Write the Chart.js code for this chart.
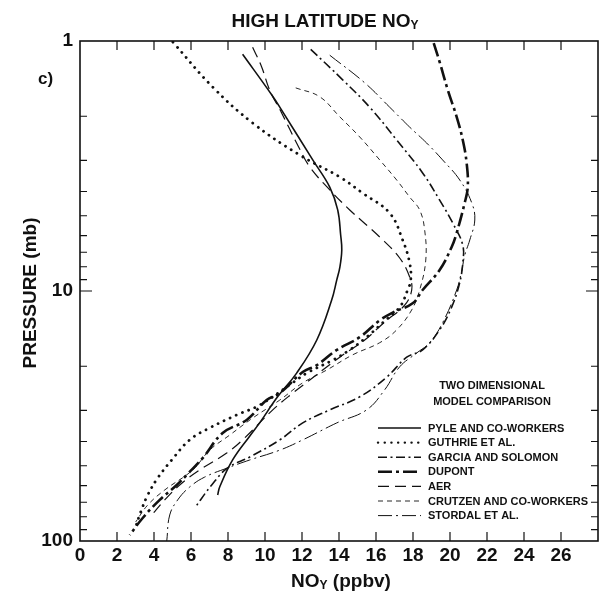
<!DOCTYPE html>
<html><head><meta charset="utf-8">
<script src="https://cdn.jsdelivr.net/npm/chart.js@4.4.0/dist/chart.umd.min.js"></script>
<style>html,body{margin:0;padding:0;background:#fff}</style>
</head><body>
<canvas id="c" width="603" height="607"></canvas>
<script>
// ---- data (NOy in ppbv vs pressure in mb) ----
const seriesNames = ["PYLE AND CO-WORKERS","GUTHRIE ET AL.","GARCIA AND SOLOMON","DUPONT","AER","CRUTZEN AND CO-WORKERS","STORDAL ET AL."];
const pyleX = [8.79,10.36,10.90,12.58,13.50,13.93,14.09,14.15,14.05,13.88,13.6,12.8,11.71,10.68,9.71,9.18,8.25,7.55,7.44];
const pyleP = [1.13,1.64,1.89,2.99,3.84,4.74,5.97,6.85,8.0,9.03,10.9,15.7,21.3,26.5,33.7,38.0,47.4,60.8,65.5];
const guthrieX = [5.02,7.18,9.34,11.88,14.04,15.28,16.74,17.44,17.82,17.88,17.71,17.28,16.36,15.49,14.58,13.66,12.26,11.49,9.71,8.47,7.01,5.93,4.96,4.20,3.66,3.28,3.01];
const guthrieP = [1.01,1.53,2.13,2.86,3.50,4.06,4.88,6.25,7.73,9.03,9.91,11.6,13.4,15.3,17.2,18.9,21.3,23.3,28.6,31.3,35.3,39.4,47.4,56.0,65.5,76.6,87.9];
const garciaX = [12.47,14.20,15.66,17.12,18.52,19.44,20.15,20.69,20.69,20.52,20.09,19.44,18.52,17.66,16.58,15.12,13.50,12.04,10.80,9.18,7.98,7.12,6.20];
const garciaP = [1.08,1.43,1.84,2.49,3.37,4.33,5.35,6.55,7.73,9.29,11.6,14.3,17.2,18.4,22.1,26.5,29.9,33.7,39.4,46.1,51.0,59.7,73.8];
const dupontX = [19.12,19.45,19.88,20.36,20.69,20.90,20.96,20.79,20.36,20.09,19.44,18.52,17.98,16.90,16.20,15.12,13.88,12.80,12.04,10.80,10.09,9.01,7.71,6.63,5.77,5.23,4.31,3.39,2.69];
const dupontP = [1.02,1.22,1.57,2.01,2.49,3.08,3.84,4.45,5.86,6.67,8.24,9.91,11.2,12.2,13.1,15.3,17.2,19.8,21.1,25.6,27.3,32.8,37.0,46.6,54.4,59.7,68.5,80.9,94.6];
const aerX = [9.33,9.82,10.25,10.90,11.77,12.42,13.50,14.58,16.20,17.28,17.82,17.93,17.55,16.47,15.39,14.04,12.42,11.50,10.42,8.79,7.93,6.47,5.39,4.58,3.88];
const aerP = [1.06,1.27,1.57,1.94,2.61,3.19,3.94,4.74,6.08,7.38,8.79,9.91,11.4,13.3,15.7,18.4,22.7,25.6,29.9,39.4,44.5,52.0,59.7,68.5,78.7];
const crutzenX = [11.66,12.95,14.04,15.12,16.20,17.12,17.82,18.36,18.63,18.69,18.36,17.93,17.12,16.20,14.74,13.34,12.04,10.80,9.34,8.09,7.01,6.09,4.58,3.66,3.01];
const crutzenP = [1.54,1.67,2.01,2.42,2.99,3.60,4.21,4.74,5.70,7.52,9.91,11.9,14.3,16.1,18.0,20.7,23.3,27.3,32.2,37.7,43.3,52.0,62.5,71.8,83.9];
const stordalX = [13.50,15.39,16.74,17.82,18.74,19.60,20.53,21.18,21.34,21.07,20.80,20.64,20.36,19.60,18.90,18.20,17.28,16.46,15.49,13.88,12.04,10.80,9.18,7.98,6.74,5.93,5.28,4.85,4.69];
const stordalP = [1.14,1.47,1.84,2.21,2.56,2.99,3.60,4.45,5.20,6.25,7.18,8.24,9.91,13.4,16.1,17.7,20.1,24.9,29.9,33.7,39.4,43.3,47.4,51.0,55.5,60.8,68.5,78.7,100];
const xTickStep = 2;
const yTickValues = [1,2,3,4,5,6,7,8,9,10,20,30,40,50,60,70,80,90,100];
const yLabelValues = [1,10,100];

const zip = (xs, ps) => xs.map((x, i) => ({x: x, y: ps[i]}));
const INK = '#111';
const styles = [
  {w:1.6, dash:[], cap:'butt'},
  {w:2.8, dash:[0.1,6.6], cap:'round'},
  {w:1.6, dash:[9,3.5,2,3.5], cap:'butt'},
  {w:2.6, dash:[14,4,3,4], cap:'butt'},
  {w:1.2, dash:[11,6], cap:'butt'},
  {w:0.9, dash:[5,4], cap:'butt'},
  {w:1.0, dash:[14,4,2,4], cap:'butt'}
];
const seriesData = [zip(pyleX,pyleP), zip(guthrieX,guthrieP), zip(garciaX,garciaP), zip(dupontX,dupontP), zip(aerX,aerP), zip(crutzenX,crutzenP), zip(stordalX,stordalP)];

const datasets = seriesNames.map((name, i) => ({
  label: name,
  data: seriesData[i],
  borderColor: INK,
  borderWidth: styles[i].w,
  borderDash: styles[i].dash,
  borderCapStyle: styles[i].cap,
  pointRadius: 0,
  tension: 0.4,
  fill: false
}));

const BIG = 'bold 19px "Liberation Sans", Arial, sans-serif';
const SUB = 'bold 12px "Liberation Sans", Arial, sans-serif';

const decor = {
  id: 'decor',
  afterDraw(chart) {
    const ctx = chart.ctx, a = chart.chartArea;
    const xs = chart.scales.x, ys = chart.scales.y;
    ctx.save();
    ctx.strokeStyle = INK; ctx.fillStyle = INK;
    ctx.lineWidth = 1.6; ctx.setLineDash([]);
    ctx.strokeRect(a.left, a.top, a.right - a.left, a.bottom - a.top);
    ctx.lineWidth = 1.2;
    xs.ticks.forEach(t => {
      if (t.value <= xs.min || t.value >= xs.max) return;
      const px = xs.getPixelForValue(t.value);
      ctx.beginPath();
      ctx.moveTo(px, a.bottom); ctx.lineTo(px, a.bottom - 9);
      ctx.moveTo(px, a.top); ctx.lineTo(px, a.top + 9);
      ctx.stroke();
    });
    yTickValues.forEach(v => {
      if (v <= ys.min || v >= ys.max) return;
      const py = ys.getPixelForValue(v);
      const len = (v === 10) ? 12 : 7;
      ctx.beginPath();
      ctx.moveTo(a.left, py); ctx.lineTo(a.left + len, py);
      ctx.moveTo(a.right, py); ctx.lineTo(a.right - len, py);
      ctx.stroke();
    });
    ctx.textBaseline = 'alphabetic'; ctx.textAlign = 'left';
    // title
    const t1 = 'HIGH LATITUDE NO';
    ctx.font = BIG; const w1 = ctx.measureText(t1).width;
    ctx.font = SUB; const w2 = ctx.measureText('Y').width;
    const tx = 325 - (w1 + w2) / 2;
    ctx.font = BIG; ctx.fillText(t1, tx, 27);
    ctx.font = SUB; ctx.fillText('Y', tx + w1, 29);
    // x axis title
    const t3 = 'NO', t4 = ' (ppbv)';
    ctx.font = BIG;
    const a3 = ctx.measureText(t3).width, a4 = ctx.measureText(t4).width;
    ctx.font = SUB; const aY = ctx.measureText('Y').width;
    const x0 = 341 - (a3 + aY + a4) / 2;
    ctx.font = BIG; ctx.fillText(t3, x0, 587);
    ctx.font = SUB; ctx.fillText('Y', x0 + a3, 589);
    ctx.font = BIG; ctx.fillText(t4, x0 + a3 + aY, 587);
    // panel tag
    ctx.font = 'bold 17px "Liberation Sans", Arial, sans-serif';
    ctx.fillText('c)', 38, 84);
    // y axis title
    ctx.save();
    ctx.translate(36, 293); ctx.rotate(-Math.PI / 2);
    ctx.font = BIG; ctx.textAlign = 'center';
    ctx.fillText('PRESSURE (mb)', 0, 0);
    ctx.restore();
    // legend
    ctx.font = 'bold 11px "Liberation Sans", Arial, sans-serif';
    ctx.textAlign = 'center'; ctx.textBaseline = 'middle';
    ctx.fillText('TWO DIMENSIONAL', 492, 386);
    ctx.fillText('MODEL COMPARISON', 492, 402);
    ctx.textAlign = 'left';
    chart.data.datasets.forEach((ds, i) => {
      const y = 428 + i * 14.6;
      ctx.beginPath();
      ctx.lineWidth = Math.min(ds.borderWidth, 2.4);
      ctx.setLineDash(ds.borderDash);
      ctx.lineCap = ds.borderCapStyle;
      ctx.moveTo(378, y); ctx.lineTo(421, y);
      ctx.stroke();
      ctx.setLineDash([]); ctx.lineCap = 'butt';
      ctx.fillText(ds.label, 428, y + 0.5);
    });
    ctx.restore();
  }
};

new Chart(document.getElementById('c'), {
  type: 'line',
  data: { datasets },
  options: {
    responsive: false,
    devicePixelRatio: 1,
    animation: false,
    layout: { padding: { left: 0, right: 5, top: 41, bottom: 0 } },
    plugins: { legend: { display: false }, tooltip: { enabled: false }, title: { display: false } },
    scales: {
      x: {
        type: 'linear', min: 0, max: 28,
        border: { display: false },
        grid: { display: false, drawTicks: false },
        ticks: {
          stepSize: xTickStep, padding: 3, color: INK,
          font: { family: '"Liberation Sans", Arial, sans-serif', size: 19, weight: 'bold' },
          maxRotation: 0, autoSkip: false,
          callback: v => (v >= 28 ? '' : String(v))
        },
        afterFit: s => { s.height = 66; }
      },
      y: {
        type: 'logarithmic', min: 1, max: 100, reverse: true,
        border: { display: false },
        grid: { display: false, drawTicks: false },
        afterBuildTicks: s => { s.ticks = yTickValues.map(v => ({ value: v })); },
        ticks: {
          padding: 7, color: INK, autoSkip: false,
          font: { family: '"Liberation Sans", Arial, sans-serif', size: 19, weight: 'bold' },
          callback: v => (yLabelValues.includes(v) ? String(v) : '')
        },
        afterFit: s => { s.width = 80; }
      }
    }
  },
  plugins: [decor]
});
</script>
</body></html>
